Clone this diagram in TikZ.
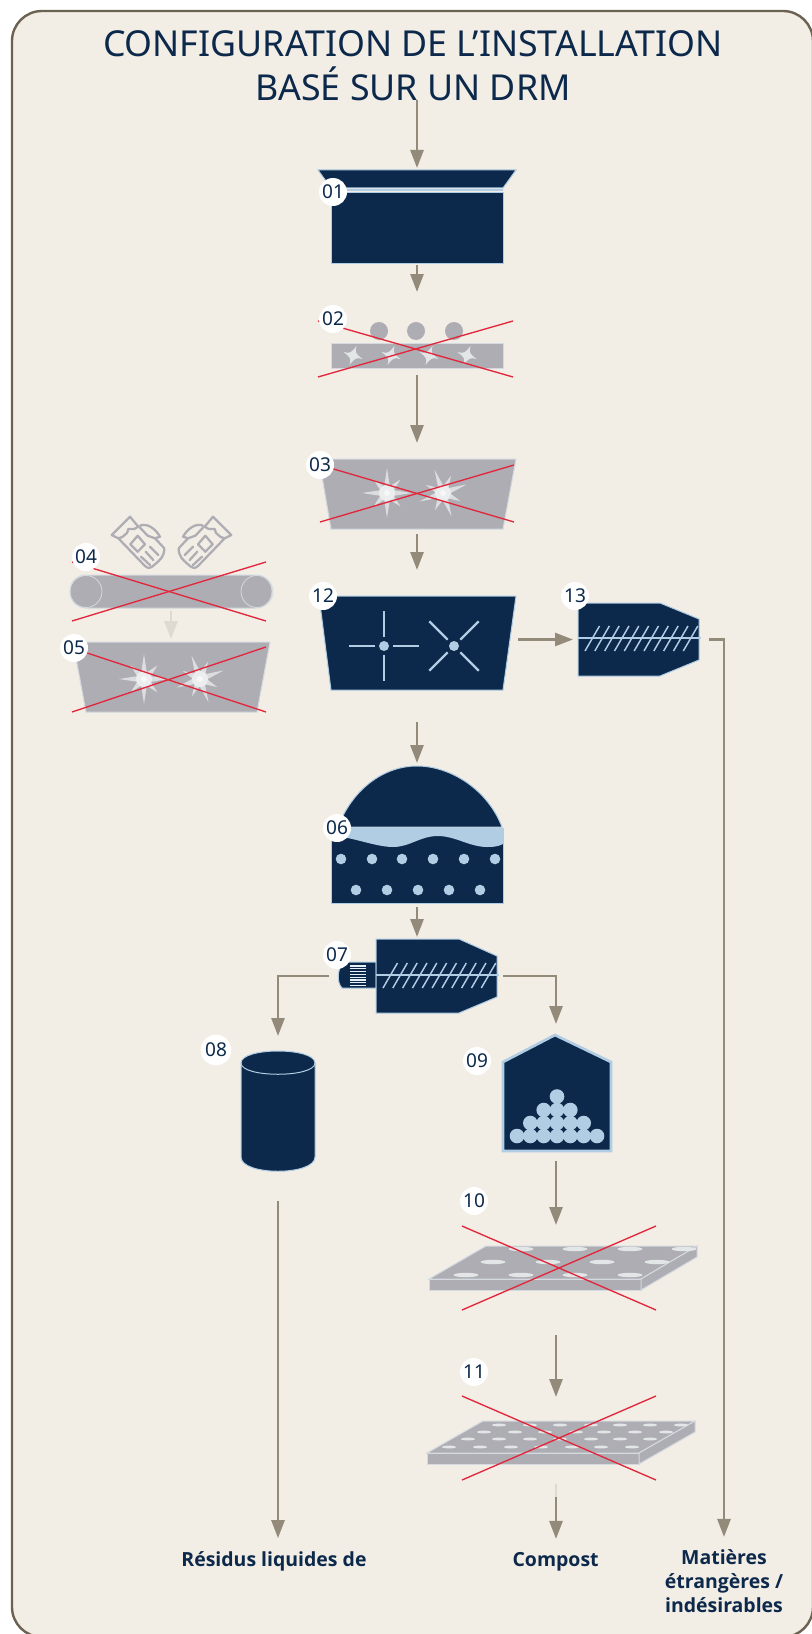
\documentclass[tikz,border=0pt]{standalone}
\usepackage{fontspec}
\setmainfont{Noto Sans}
\newfontfamily\labelfont{Open Sans}
\usetikzlibrary{arrows.meta}
\definecolor{navy}{HTML}{0C294B}
\definecolor{paleblue}{HTML}{B0CDE3}
\definecolor{stone}{HTML}{948A7A}
\definecolor{fadestone}{HTML}{DEDACF}
\definecolor{paper}{HTML}{F2EDE5}
\definecolor{rim}{HTML}{6C6252}
\definecolor{offgrey}{HTML}{AEADB3}
\definecolor{offlight}{HTML}{E3E6E7}
\definecolor{offedge}{HTML}{D3DAE0}
\definecolor{crossred}{HTML}{E2263C}
\begin{document}
\begin{tikzpicture}[
                x=0.75pt,
                y=-0.75pt,
                unit/.style={
                    rectangle,
                    inner sep=0pt,
                    outer sep=0pt
                },
                badge/.style={
                    circle,
                    fill=white,
                    text=navy,
                    inner sep=0pt,
                    minimum size=21pt,
                    font=\fontsize{14.3}{16}\selectfont
                },
                outlabel/.style={
                    inner sep=0pt,
                    align=center,
                    text=navy,
                    font=\fontsize{14.6}{18}\selectfont\labelfont\bfseries
                },
                arrow/.style={
                    -{Triangle[width=9.75pt,length=13.5pt]},
                    line width=2pt,
                    draw=stone
                },
                fadedarrow/.style={
                    arrow,
                    draw=fadestone
                },
                darkbody/.style={
                    fill=navy,
                    draw=paleblue,
                    line width=0.75pt,
                    line join=miter
                },
                offbody/.style={
                    fill=offgrey,
                    draw=offedge,
                    line width=0.75pt
                },
                crossline/.style={
                    draw=crossred,
                    line width=1pt
                },
                spark/.pic={
                    \foreach \a/\r in {0/25,45/19,90/25,135/19,180/25,225/19,270/25,315/19}{
                        \fill[offlight!85!offgrey] (\a:\r) -- (\a+24:7) -- (\a-24:7) -- cycle;
                    }
                    \fill[offlight!70!white] (0,0) circle[radius=8];
                    \fill[white!70!offlight] (0,0) circle[radius=3];
                },
                blade/.pic={
                    \fill[offlight] (3.5,-9.5) .. controls (1.5,-3) and (3,-1.5) .. (9.5,3.5)
                        .. controls (3,1.5) and (1.5,3) .. (-3.5,9.5)
                        .. controls (-1.5,3) and (-3,1.5) .. (-9.5,-3.5)
                        .. controls (-3,-1.5) and (-1.5,-3) .. (3.5,-9.5);
                },
                teeth/.pic={
                    \foreach \i in {0,...,10}{
                        \draw[paleblue,line width=1.1pt] (\i*9.83,13) -- (\i*9.83+14.5,-12);
                    }
                },
                glove/.pic={
                    \begin{scope}[draw=offgrey,line width=1.7pt,line join=round,line cap=round]
                        \draw (-26.8,-7.5) -- (-8.5,-25.8) -- (-0.2,-15.8) -- (-4.2,-13.5) -- (-10.2,-13.5) -- (-11.5,-9.5) -- (-16.2,-5.5) -- (-20.2,-4.2) -- cycle;
                        \draw (-19.5,-3.5) -- (6.5,23.5) .. controls (10,27) and (13,25) .. (16.5,21.8) .. controls (22,17) and (25.8,14) .. (25.8,5.8) -- (16.5,-4.2);
                        \draw (1.5,-16.8) .. controls (8,-20) and (17,-14) .. (21.5,-5.8) -- (16.5,-4.2) -- (9.2,-6.8) -- (1.5,-14.8);
                        \draw (-0.8,-6.8) -- (6.5,1.8) -- (-0.8,9.2) -- (-8.2,1.8) -- cycle;
                        \draw (11.5,4.2) -- (19.8,12.5);
                        \draw (7.2,9.2) -- (14.8,17.5);
                        \draw (2.5,14.2) -- (11.5,22.5);
                    \end{scope}
                }
            ]

                \useasboundingbox (0,0) rectangle (811,1634);
                \draw[draw=rim,fill=paper,line width=1.8pt,rounded corners=22.5pt] (12,11) rectangle (813,1637);

                \node[text=navy,align=center,inner sep=0pt,font=\fontsize{26.8}{32.6}\selectfont] (title) at (413,65.5) {CONFIGURATION DE L’INSTALLATION\\BASÉ SUR UN DRM};

                % invisible boxes that the connectors run between
                \node[unit,minimum width=148.5pt,minimum height=69.75pt] (u01) at (417,216.5) {};
                \node[unit,minimum width=129pt,minimum height=34.5pt] (u02) at (417,345) {};
                \node[unit,minimum width=148.5pt,minimum height=52.5pt] (u03) at (417,494) {};
                \node[unit,minimum width=151.5pt,minimum height=24.75pt] (u04) at (171,591.5) {};
                \node[unit,minimum width=148.5pt,minimum height=52.5pt] (u05) at (171.5,677) {};
                \node[unit,minimum width=129pt,minimum height=102.75pt] (u06) at (417,834.5) {};
                \node[unit,minimum width=120pt,minimum height=55.5pt] (u07) at (417,976) {};
                \node[unit,minimum width=55.5pt,minimum height=90pt] (u08) at (278,1111) {};
                \node[unit,minimum width=79.5pt,minimum height=87pt] (u09) at (556,1093) {};
                \node[unit,minimum width=201pt,minimum height=33pt] (u10) at (563,1268) {};
                \node[unit,minimum width=201pt,minimum height=32.25pt] (u11) at (561,1442.5) {};
                \node[unit,minimum width=148.5pt,minimum height=70.5pt] (u12) at (417,643) {};
                \node[unit,minimum width=92.25pt,minimum height=54.75pt] (u13) at (639.5,639.5) {};

                \node[outlabel,anchor=base] (out1) at (274,1566) {Résidus liquides de};
                \node[outlabel,anchor=base] (out2) at (555.6,1566) {Compost};
                \node[outlabel,anchor=north] (out3) at (724,1549.5) {Matières\\étrangères /\\indésirables};
                \coordinate (fadeend) at (556,1497);

                \draw[arrow,shorten >=1.5pt,shorten <=-0.5pt] (u01.north |- title.south) -- (u01.north);
                \draw[arrow,shorten <=1.5pt,shorten >=22.5pt] (u01.south) -- (u02.north);
                \draw[arrow,shorten <=5.25pt,shorten >=12pt] (u02.south) -- (u03.north);
                \draw[arrow,shorten <=3.75pt,shorten >=19.5pt] (u03.south) -- (u12.north);
                \draw[arrow,shorten <=1.5pt,shorten >=3.75pt] (u13.west -| u12.east) -- (u13.west);
                \draw[arrow,shorten <=6pt,shorten >=9.4pt] (u13.east) -| (out3.north);
                \draw[arrow,shorten <=24pt,shorten >=2.25pt] (u12.south) -- (u06.north);
                \draw[arrow,shorten <=3pt,shorten >=1.5pt] (u06.south) -- (u07.north);
                \draw[arrow,shorten <=6pt,shorten >=11.25pt] (u07.west) -| (u08.north);
                \draw[arrow,shorten <=4.5pt,shorten >=8.25pt] (u07.east) -| (u09.north);
                \draw[arrow,shorten <=22.5pt,shorten >=9.5pt] (u08.south) -- (u08.south |- out1.north);
                \draw[arrow,shorten <=7.5pt,shorten >=15.75pt] (u09.south) -- (u09.south |- u10.north);
                \draw[arrow,shorten <=33.75pt,shorten >=18pt] (u09.south |- u10.south) -- (u09.south |- u11.north);
                \draw[fadestone,line width=2pt,shorten <=15pt] (u09.south |- u11.south) -- (fadeend);
                \draw[arrow,shorten >=9.5pt] (fadeend) -- (fadeend |- out2.north);
                \draw[fadedarrow,shorten <=2.25pt,shorten >=2.25pt] (u04.south) -- (u04.south |- u05.north);

                % 01
                \filldraw[darkbody] (318,170) -- (516,170) -- (503,188) -- (331,188) -- cycle;
                \filldraw[darkbody] (331,192) rectangle (503,263);
                \draw[paleblue,line width=2pt] (331,190) -- (503,190);

                % 02
                \foreach \x in {379,416,454}{
                    \fill[offgrey] (\x,331) circle[radius=9];
                }
                \filldraw[offbody] (331,343) rectangle (503,368);
                \foreach \x in {353,391,429,467}{
                    \pic at (\x,355.5) {blade};
                }
                \draw[crossline] (318,321) -- (513,377);
                \draw[crossline] (318,377) -- (513,321);

                % 03
                \filldraw[offbody] (319,459) -- (516,459) -- (503,529) -- (331,529) -- cycle;
                \pic at (387,493) {spark};
                \pic[rotate=20] at (443,493) {spark};
                \draw[crossline] (320,465) -- (514,522);
                \draw[crossline] (320,522) -- (514,465);

                % 04
                \pic at (138.5,542.5) {glove};
                \pic[xscale=-1] at (204.5,542.5) {glove};
                \filldraw[offbody,rounded corners=12pt] (70,575) rectangle (272,608);
                \draw[offedge,line width=0.6pt] (86,591.5) circle[radius=16];
                \draw[offedge,line width=0.6pt] (257,591.5) circle[radius=16];
                \draw[crossline] (72,562) -- (266,621);
                \draw[crossline] (72,621) -- (266,562);

                % 05
                \filldraw[offbody] (73,642) -- (270,642) -- (257,712) -- (86,712) -- cycle;
                \pic at (144,679) {spark};
                \pic[rotate=20] at (200,679) {spark};
                \draw[crossline] (72,648) -- (266,712);
                \draw[crossline] (72,712) -- (266,647);

                % 06
                \filldraw[darkbody] (338,827) .. controls (352,790) and (383,766) .. (417,766) .. controls (451,766) and (488,790) .. (502,827) -- cycle;
                \filldraw[darkbody] (331,828) rectangle (503,903);
                \fill[paleblue] (331,828) -- (503,828) -- (503,844) .. controls (497,847) and (492,847) .. (487,847)
                    .. controls (470,847) and (455,836) .. (438,836)
                    .. controls (420,836) and (410,847) .. (393,847)
                    .. controls (375,847) and (350,836) .. (331,836) -- cycle;
                \foreach \x in {341,372,402,433,464,495}{
                    \fill[paleblue] (\x,859) circle[radius=5.3];
                }
                \foreach \x in {356,387,418,449,480}{
                    \fill[paleblue] (\x,890) circle[radius=5.3];
                }

                % 07
                \filldraw[darkbody] (376,962) -- (343,962) .. controls (338,968) and (336,982) .. (342,988) -- (376,988) -- cycle;
                \foreach \i in {0,...,7}{
                    \draw[white!70!paleblue,line width=1pt] (350,{966+\i*2.8}) -- (366,{966+\i*2.8});
                }
                \filldraw[darkbody] (376,939) -- (459,939) -- (497,956) -- (497,997) -- (459,1013) -- (376,1013) -- cycle;
                \draw[paleblue,line width=1.8pt] (376,975) -- (499,975);
                \pic at (383,975) {teeth};

                % 08
                \filldraw[darkbody] (241,1063) .. controls (241,1047) and (315,1047) .. (315,1063) -- (315,1157) .. controls (315,1176) and (241,1176) .. (241,1157) -- cycle;
                \draw[paleblue,line width=0.75pt] (241,1063) .. controls (241,1078) and (315,1078) .. (315,1063);

                % 09
                \filldraw[fill=navy,draw=paleblue,line width=2pt] (503,1062) -- (555,1035) -- (611,1062) -- (611,1151) -- (503,1151) -- cycle;
                \foreach \x in {517,530.3,543.7,557,570.3,583.7,597}{
                    \fill[paleblue] (\x,1136) circle[radius=7.3];
                }
                \foreach \x in {530.3,543.7,557,570.3,583.7}{
                    \fill[paleblue] (\x,1123) circle[radius=7.3];
                }
                \foreach \x in {543.7,557,570.3}{
                    \fill[paleblue] (\x,1110) circle[radius=7.3];
                }
                \fill[paleblue] (557,1096.5) circle[radius=7.3];

                % 10
                \filldraw[offbody] (429,1279) -- (486,1246) -- (697,1246) -- (641,1279) -- cycle;
                \filldraw[offbody] (429,1279) rectangle (641,1290);
                \filldraw[offbody] (641,1279) -- (697,1246) -- (697,1257) -- (641,1290) -- cycle;
                \foreach \x/\y in {521/1249,575/1249,630/1249,684/1249,493/1262,548/1262,602/1262,657/1262,466/1275,521/1275,575/1275,630/1275}{
                    \fill[offlight] (\x,\y) ellipse[x radius=12.5,y radius=2.2];
                }
                \draw[crossline] (462,1226) -- (656,1310);
                \draw[crossline] (462,1310) -- (656,1226);

                % 11
                \filldraw[offbody] (427,1453) -- (483,1421) -- (695,1421) -- (639,1453) -- cycle;
                \filldraw[offbody] (427,1453) rectangle (639,1464);
                \filldraw[offbody] (639,1453) -- (695,1421) -- (695,1432) -- (639,1464) -- cycle;
                \foreach \x in {499,530,560,591,620,650,681}{
                    \fill[offlight] (\x,1425) ellipse[x radius=7,y radius=1.4];
                }
                \foreach \x in {484,515,545,576,604,635,666}{
                    \fill[offlight] (\x,1432) ellipse[x radius=7,y radius=1.4];
                }
                \foreach \x in {468,499,530,560,591,620,650}{
                    \fill[offlight] (\x,1439) ellipse[x radius=7,y radius=1.4];
                }
                \foreach \x in {449,480,511,541,572,601,632}{
                    \fill[offlight] (\x,1447) ellipse[x radius=7,y radius=1.4];
                }
                \draw[crossline] (462,1396) -- (656,1480);
                \draw[crossline] (462,1480) -- (656,1396);

                % 12
                \filldraw[darkbody] (319,596) -- (516,596) -- (503,690) -- (331,690) -- cycle;
                \foreach \a in {0,90,180,270}{
                    \draw[paleblue,line width=1.7pt] (384,646) ++(\a:9) -- ++(\a:26);
                }
                \foreach \a in {45,135,225,315}{
                    \draw[paleblue,line width=1.7pt] (454,646) ++(\a:9) -- ++(\a:26);
                }
                \fill[paleblue] (384,646) circle[radius=5];
                \fill[paleblue] (454,646) circle[radius=5];

                % 13
                \filldraw[darkbody] (578,603) -- (660,603) -- (699,619) -- (699,660) -- (660,676) -- (578,676) -- cycle;
                \draw[paleblue,line width=1.8pt] (578,638) -- (701,638);
                \pic at (585,638) {teeth};

                \node[badge] (b01) at (333,192) {01};
                \node[badge] (b02) at (333,319) {02};
                \node[badge] (b03) at (320,465) {03};
                \node[badge] (b04) at (86,557) {04};
                \node[badge] (b05) at (74,648) {05};
                \node[badge] (b06) at (337,828) {06};
                \node[badge] (b07) at (337,955) {07};
                \node[badge,minimum size=23pt] (b08) at (216,1050) {08};
                \node[badge] (b09) at (477,1061) {09};
                \node[badge] (b10) at (474,1201) {10};
                \node[badge] (b11) at (474,1372) {11};
                \node[badge] (b12) at (323,596) {12};
                \node[badge] (b13) at (575,596) {13};
        \end{tikzpicture}
\end{document}
